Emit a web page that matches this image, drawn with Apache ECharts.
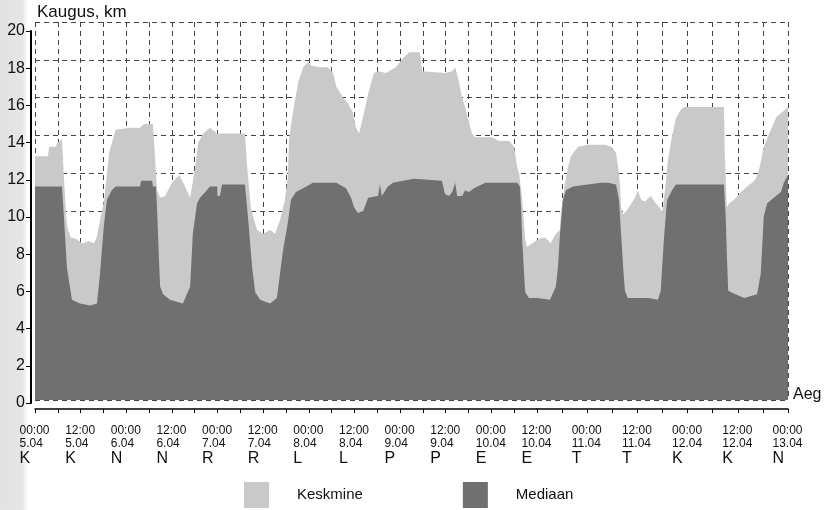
<!DOCTYPE html>
<html>
<head>
<meta charset="utf-8">
<script src="https://cdn.jsdelivr.net/npm/echarts@6/dist/echarts.min.js"></script>
<style>
  html, body { margin: 0; padding: 0; background: #fff; }
  #chart { width: 829px; height: 510px; }
</style>
</head>
<body>
<div id="chart"></div>
<script>
// Distance (km) over time, hours counted from 00:00 5.04
const meanHours = [0, 3.4, 3.7, 5.5, 5.8, 7.1, 7.6, 8.1, 8.4, 9.4, 11, 12.4, 14.2, 15.5, 16.2, 18.2, 19.5, 21.2, 25, 27.6,
  28.7, 31.0, 31.6, 32.1, 32.9, 34.2, 36.0, 37.9, 39.2, 40.8, 41.3, 42.1, 42.9, 44.2, 46.0, 47.9, 53.9, 55.2, 55.8, 56.8,
  58.4, 60.0, 61.8, 63.1, 64.4, 65.7, 66.5, 66.8, 67.8, 69.2, 70.5, 71.8, 72.6, 74.7, 77.0, 78.4, 79.2, 81.0, 82.3, 83.6,
  84.4, 85.2, 86.3, 87.6, 88.4, 89.1, 90.2, 92.3, 94.9, 96.8, 98.4, 101.2, 101.8, 107.8, 109.7, 110.5, 111.5, 112.3, 113.1, 114.1,
  114.9, 115.7, 118.4, 120.2, 122.0, 124.7, 126.0, 126.8, 127.3, 128.1, 128.9, 129.4, 132.2, 133.9, 135.3, 136.5, 137.5, 137.7, 138.7, 139.4,
  140.1, 141.8, 144.2, 148.3, 149.7, 150.9, 151.4, 151.8, 152.1, 152.6, 153.7, 155.4, 156.1, 156.9, 157.8, 159.2, 160.4, 161.6, 161.9, 162.6,
  163.3, 164.3, 165.2, 166.2, 167.1, 176.7, 176.9, 177.4, 177.9, 179.1, 180.8, 182.2, 183.4, 184.3, 185.1, 186.2, 187.9, 189.3, 191.0, 192.0];
const meanKm = [12.9, 12.9, 13.4, 13.4, 13.6, 13.8, 11.8, 10.1, 9.2, 8.6, 8.5, 8.3, 8.4, 8.3, 8.6, 10.6, 13.1, 14.3, 14.4, 14.4,
  14.6, 14.6, 12.7, 11.1, 10.7, 10.8, 11.5, 11.9, 11.4, 10.7, 10.6, 12.3, 13.6, 14.1, 14.4, 14.1, 14.1, 14.1, 12.3, 10.1,
  9.0, 8.8, 9.0, 8.8, 9.5, 10.6, 11.8, 13.8, 15.2, 16.8, 17.6, 17.9, 17.7, 17.6, 17.6, 17.3, 16.6, 16.0, 15.7, 15.2,
  14.4, 14.1, 15.0, 16.2, 16.8, 17.3, 17.4, 17.3, 17.6, 18.1, 18.4, 18.4, 17.4, 17.3, 17.4, 17.6, 16.8, 16.0, 15.5, 14.7,
  14.1, 13.9, 13.9, 13.9, 13.7, 13.7, 13.4, 12.3, 12.0, 10.6, 8.5, 8.1, 8.5, 8.6, 8.3, 8.8, 9.0, 9.9, 11.5, 12.3,
  12.9, 13.4, 13.5, 13.5, 13.4, 13.1, 12.3, 11.5, 10.2, 9.8, 10.1, 10.7, 11.1, 10.6, 10.5, 10.8, 10.4, 10.1, 9.9, 11.1,
  12.7, 14.0, 14.9, 15.3, 15.5, 15.5, 12.9, 10.2, 10.4, 10.6, 11.0, 11.3, 11.5, 11.7, 12.2, 13.4, 14.3, 15.0, 15.3, 15.5];

const medianHours = [0, 5.5, 7.1, 7.6, 8.4, 9.4, 9.7, 11.8, 14.5, 16.3, 17.1, 18.1, 18.9, 20.2, 21.2, 27.6, 27.9, 30.8, 31.0, 31.8,
  32.1, 32.6, 32.9, 33.7, 35.5, 38.9, 40.8, 41.5, 42.6, 43.4, 45.2, 46.0, 47.9, 48.0, 48.6, 49.2, 55.2, 56.0, 57.1, 57.9,
  59.2, 61.8, 63.6, 65.2, 66.5, 67.3, 68.6, 70.5, 73.1, 75.7, 79.2, 81.8, 83.1, 83.9, 84.9, 86.3, 87.6, 90.2, 90.7, 91.2,
  92.8, 94.1, 96.8, 99.7, 107.0, 107.5, 107.8, 108.9, 109.7, 110.5, 111.0, 112.3, 113.1, 114.1, 115.4, 118.4, 121.0, 126.8, 127.5, 127.8,
  128.1, 128.6, 128.9, 129.9, 132.0, 135.1, 136.5, 137.0, 137.5, 138.2, 138.9, 140.6, 147.3, 149.0, 150.9, 151.6, 152.1, 152.6, 153.0, 153.7,
  158.5, 160.9, 161.6, 161.9, 162.4, 163.1, 164.3, 165.2, 176.7, 177.1, 177.4, 177.7, 178.4, 181.5, 184.6, 185.5, 186.2, 187.0, 188.6, 190.3,
  191.0, 192.0];
const medianKm = [11.3, 11.3, 11.3, 9.7, 7.0, 5.7, 5.3, 5.1, 5.0, 5.1, 6.7, 9.2, 10.6, 11.1, 11.3, 11.3, 11.6, 11.6, 11.3, 11.3,
  10.1, 7.4, 6.0, 5.6, 5.3, 5.1, 6.0, 8.8, 10.4, 10.7, 11.1, 11.3, 11.3, 10.8, 10.8, 11.4, 11.4, 9.7, 7.0, 5.7,
  5.3, 5.1, 5.4, 7.9, 9.4, 10.6, 11.0, 11.2, 11.5, 11.5, 11.5, 11.2, 10.7, 10.2, 9.9, 10.0, 10.7, 10.8, 11.4, 10.8,
  11.3, 11.5, 11.6, 11.7, 11.6, 11.5, 10.9, 10.8, 11.0, 11.5, 10.8, 10.8, 11.1, 11.0, 11.2, 11.5, 11.5, 11.5, 11.3, 10.2,
  8.5, 6.7, 5.7, 5.4, 5.4, 5.3, 6.0, 7.0, 8.8, 10.6, 11.1, 11.3, 11.5, 11.5, 11.4, 10.6, 8.8, 7.0, 5.8, 5.4,
  5.4, 5.3, 5.8, 7.0, 8.7, 10.6, 11.1, 11.4, 11.4, 9.7, 7.6, 5.8, 5.7, 5.4, 5.6, 6.7, 9.7, 10.4, 10.7, 11.0,
  11.5, 11.9];

// Axis labels every 12 hours
const tickTimes = ['00:00', '12:00', '00:00', '12:00', '00:00', '12:00', '00:00', '12:00', '00:00',
  '12:00', '00:00', '12:00', '00:00', '12:00', '00:00', '12:00', '00:00'];
const tickDates = ['5.04', '5.04', '6.04', '6.04', '7.04', '7.04', '8.04', '8.04', '9.04',
  '9.04', '10.04', '10.04', '11.04', '11.04', '12.04', '12.04', '13.04'];
const tickDays = ['K', 'K', 'N', 'N', 'R', 'R', 'L', 'L', 'P', 'P', 'E', 'E', 'T', 'T', 'K', 'K', 'N'];

const seriesNames = ['Keskmine', 'Mediaan'];
const FONT = '"Liberation Sans", Arial, Helvetica, sans-serif';
const LIGHT = '#c9c9c9';
const DARK = '#707070';

// The time axis is drawn in two pieces (0–132 h and 132–192 h), each on its own grid
const BREAK_H = 132;
const END_H = 192;

const pairs = (hs, vs) => hs.map((h, i) => [h, vs[i]]);
const meanData = pairs(meanHours, meanKm);
const medianData = pairs(medianHours, medianKm);

const dashed = { show: true, lineStyle: { color: '#444', width: 1, type: [5, 4] } };

function timeAxis(gridIndex, min, max, showMax) {
  return {
    type: 'value', gridIndex, min, max, interval: 6, offset: 9,
    axisLine: { show: true, onZero: false, lineStyle: { color: '#000', width: 1.5 } },
    axisTick: { show: true, length: 4, lineStyle: { color: '#000', width: 1 } },
    splitLine: dashed,
    axisLabel: {
      margin: 15, showMaxLabel: showMax, showMinLabel: true,
      formatter: v => {
        if (Math.round(v) % 12 !== 0) return '';
        const i = Math.round(v) / 12;
        return '{t|' + tickTimes[i] + '}\n{t|' + tickDates[i] + '}\n{d|' + tickDays[i] + '}';
      },
      rich: {
        t: { fontSize: 12, lineHeight: 13, width: 31, align: 'left', color: '#111', fontFamily: FONT },
        d: { fontSize: 16, lineHeight: 18, width: 31, align: 'left', color: '#111', fontFamily: FONT }
      }
    }
  };
}

function kmAxis(gridIndex) {
  return {
    type: 'value', gridIndex, min: 0, max: 20, interval: 2,
    axisLine: { show: false }, axisTick: { show: false }, axisLabel: { show: false },
    splitLine: dashed
  };
}

function areaSeries(name, data, color, idx) {
  return {
    name, type: 'line', xAxisIndex: idx, yAxisIndex: idx, data,
    symbol: 'none', showSymbol: false, clip: true, silent: true,
    lineStyle: { width: 0, color },
    itemStyle: { color },
    areaStyle: { color, opacity: 1 }
  };
}

const chart = echarts.init(document.getElementById('chart'), null, { renderer: 'canvas' });
chart.setOption({
  animation: false,
  backgroundColor: '#fff',
  textStyle: { fontFamily: FONT },
  title: {
    text: 'Kaugus, km', left: 37, top: 4, padding: 0,
    textStyle: { fontSize: 17, fontWeight: 'normal', color: '#111', fontFamily: FONT }
  },
  grid: [
    { left: 35, width: 502, top: 22, bottom: 110 },
    { left: 537, width: 251, top: 22, bottom: 110 },
    { left: 31, right: 41, top: 31, bottom: 107 }
  ],
  xAxis: [
    timeAxis(0, 0, BREAK_H, false),
    timeAxis(1, BREAK_H, END_H, true),
    { type: 'value', gridIndex: 2, show: false, min: 0, max: 1 }
  ],
  yAxis: [
    kmAxis(0),
    kmAxis(1),
    {
      type: 'value', gridIndex: 2, min: 0, max: 20, interval: 2,
      axisLine: { show: true, lineStyle: { color: '#000', width: 2 } },
      axisTick: { show: true, length: 5, lineStyle: { color: '#000', width: 1 } },
      axisLabel: { margin: 6, fontSize: 16, color: '#111', fontFamily: FONT },
      splitLine: { show: false }
    }
  ],
  legend: {
    left: 244, top: 482, padding: 0, icon: 'rect', itemWidth: 25, itemHeight: 26, itemGap: 100,
    selectedMode: false,
    textStyle: { fontSize: 15, color: '#111', fontFamily: FONT, padding: [0, 0, 0, 23] },
    data: [
      { name: seriesNames[0], itemStyle: { color: LIGHT } },
      { name: seriesNames[1], itemStyle: { color: DARK } }
    ]
  },
  graphic: [
    {
      type: 'rect', left: 0, top: 0, z: -10, silent: true,
      shape: { width: 28, height: 510 },
      style: { fill: new echarts.graphic.LinearGradient(0, 0, 1, 0, [
        { offset: 0, color: '#e2e2e2' }, { offset: 0.8, color: '#e6e6e6' }, { offset: 1, color: '#ffffff' }
      ]) }
    },
    {
      type: 'text', left: 793, top: 387, silent: true,
      style: { text: 'Aeg', fontSize: 16, fill: '#111', fontFamily: FONT }
    }
  ],
  series: [
    areaSeries(seriesNames[0], meanData, LIGHT, 0),
    areaSeries(seriesNames[0], meanData, LIGHT, 1),
    areaSeries(seriesNames[1], medianData, DARK, 0),
    areaSeries(seriesNames[1], medianData, DARK, 1)
  ]
});
</script>
</body>
</html>
